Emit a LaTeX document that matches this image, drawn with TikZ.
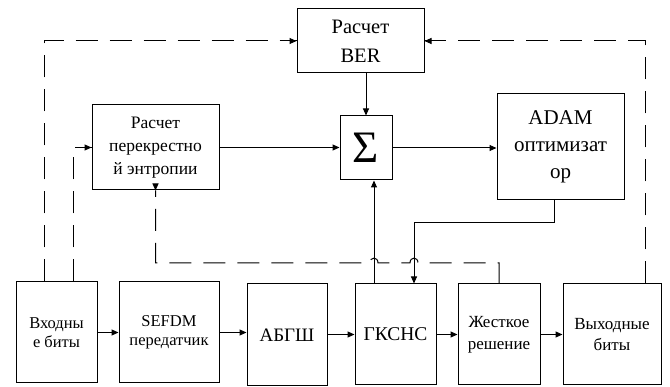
\documentclass[tikz,border=0pt]{standalone}
\usepackage{fontspec}
\setmainfont{Liberation Serif}
\newfontfamily\tnr{Liberation Serif}
\usetikzlibrary{arrows.meta}

\tikzset{
  box/.style={draw, line width=1pt, rectangle, inner sep=0pt, align=center},
  arr/.style={line width=1pt, -{Triangle[length=7pt,width=6pt]}},
  dashlink/.style={line width=1pt, dash pattern=on 22pt off 12pt},
}
\newcommand{\fs}[2]{\tnr\fontsize{#1}{#2}\selectfont}

\begin{document}
\begin{tikzpicture}[x=1pt, y=-1pt]
\useasboundingbox (0,0) rectangle (670,387);

% upper blocks
\node[box, minimum width=127pt, minimum height=64pt, font=\fs{20.5}{29}] (ber) at (360.5,41) {Расчет\\BER};
\node[box, minimum width=127pt, minimum height=85pt, font=\fs{17.5}{23}] (ce) at (155.5,147.5) {Расчет\\перекрестно\\й энтропии};
\node[box, minimum width=52pt, minimum height=64pt, font=\fs{45}{45}] (sig) at (366,148) {Σ};
\node[box, minimum width=127pt, minimum height=106pt, font=\fs{21}{27}] (adam) at (560.5,147) {ADAM\\оптимизат\\ор};

% signal chain
\node[box, minimum width=81pt, minimum height=101pt, font=\fs{16.5}{19.5}] (in) at (56.5,332.5) {Входны\\е биты};
\node[box, minimum width=100pt, minimum height=101pt, font=\fs{16.5}{19.5}] (tx) at (169,332.5) {SEFDM\\передатчик};
\node[box, minimum width=80pt, minimum height=102pt, font=\fs{19}{22}] (awgn) at (287,335) {АБГШ};
\node[box, minimum width=81pt, minimum height=101pt, font=\fs{19.5}{22}] (gk) at (395.5,334.5) {ГКСНС};
\node[box, minimum width=82pt, minimum height=101pt, font=\fs{17}{22}] (hard) at (499,334.5) {Жесткое\\решение};
\node[box, minimum width=98pt, minimum height=101pt, font=\fs{17}{21}] (out) at (612,334.5) {Выходные\\биты};

% routing points
\coordinate (d1) at (44,41);
\coordinate (d2) at (645,41);
\coordinate (d3) at (73,147.5);
\coordinate (d4) at (499,263);
\coordinate (d5) at (155.5,263);
\coordinate (s1) at (374,200);
\coordinate (a1) at (554,223);
\coordinate (a2) at (414,223);

% chain arrows
\draw[arr] (in.east) -- (in.east -| tx.west);
\draw[arr] (tx.east) -- (tx.east -| awgn.west);
\draw[arr] (awgn.east |- gk.west) -- (gk.west);
\draw[arr] (gk.east) -- (hard.west);
\draw[arr] (hard.east) -- (out.west);

% solid feedback paths
\draw[arr] (ber.south -| sig.north) -- (sig.north);
\draw[arr] (ce.east) -- (ce.east -| sig.west);
\draw[arr] (sig.east) -- (sig.east -| adam.west);
\draw[arr] (gk.north -| s1) -- (sig.south -| s1);
\draw[arr] (adam.south -| a1) -- (a1) -- (a2) -- (a2 |- gk.north);

% dashed paths
\draw[dashlink] (in.north -| d1) -- (d1) -- (ber.west);
\draw[arr] ([xshift=-4pt]ber.west) -- (ber.west);
\draw[dashlink] (out.north -| d2) -- (d2) -- (ber.east);
\draw[arr] ([xshift=4pt]ber.east) -- (ber.east);
\draw[dashlink] (in.north -| d3) -- (d3) -- (ce.west);
\draw[arr] ([xshift=-4pt]ce.west) -- (ce.west);
\draw[dashlink] (hard.north) -- (d4)
  -- (418,263) .. controls (418,256.5) and (410,256.5) .. (410,263)
  -- (378,263) .. controls (378,256.5) and (370,256.5) .. (370,263)
  -- (d5) -- (ce.south);
\draw[arr] ([yshift=4pt]ce.south) -- (ce.south);
\end{tikzpicture}
\end{document}
